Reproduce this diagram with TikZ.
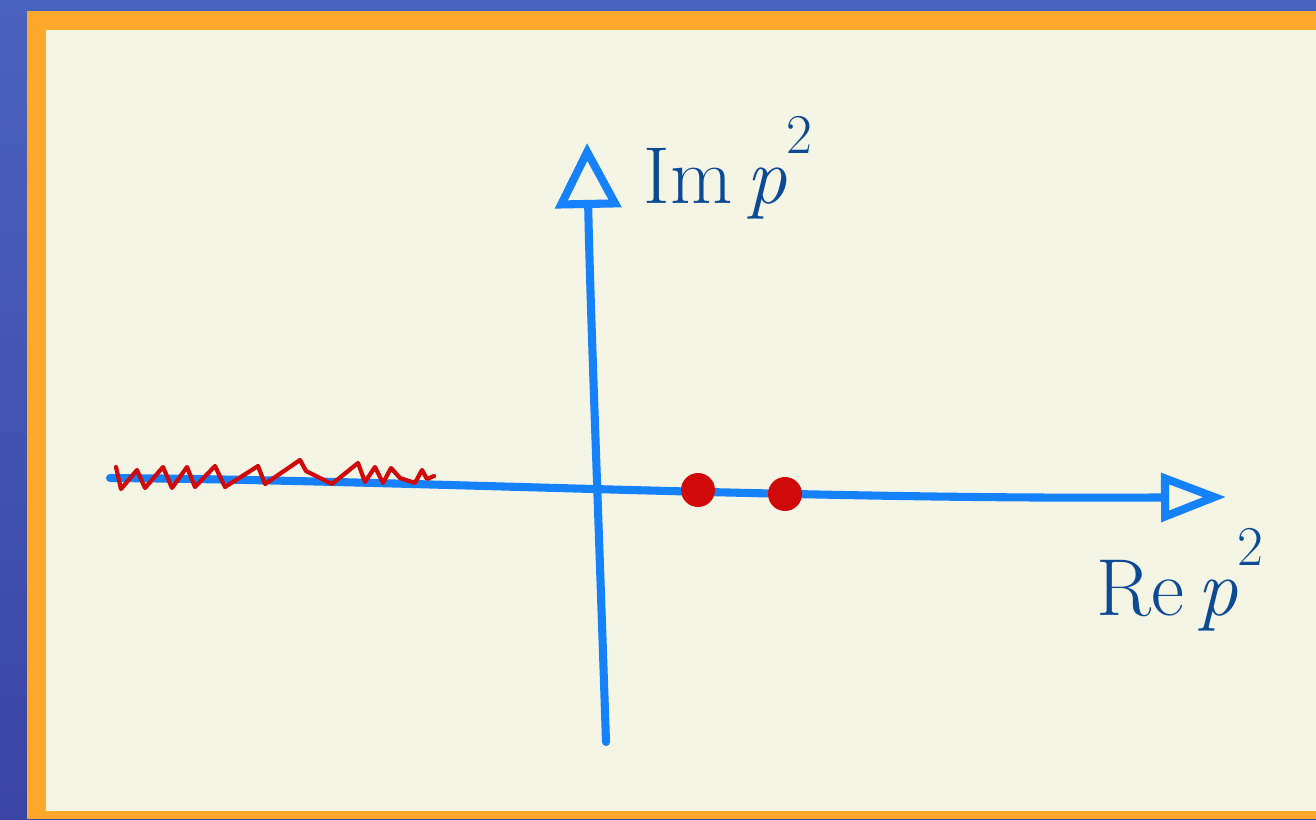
\documentclass[tikz,border=0pt]{standalone}
\usetikzlibrary{arrows.meta}
\definecolor{slideblue}{HTML}{4A63BE}
\definecolor{slidebluedark}{HTML}{3A45A4}
\definecolor{frameorange}{HTML}{FFA82B}
\definecolor{paper}{HTML}{F4F5E4}
\definecolor{axisblue}{HTML}{1581FB}
\definecolor{inkblue}{HTML}{0C4A95}
\definecolor{polered}{HTML}{D00A0A}
\newcommand{\sqlabel}[1]{#1\,\textit{p}\raisebox{0.62em}{\fontsize{32}{32}\selectfont 2}}
\tikzset{
  axis/.style={draw=axisblue, line width=4.6pt, line cap=round, line join=round},
  cut/.style={draw=polered, line width=2.4pt, line cap=round, line join=round},
  pole/.style={circle, fill=polered, inner sep=0pt, minimum size=0.68cm},
  axislabel/.style={text=inkblue, font=\fontsize{46}{50}\selectfont}
}
\begin{document}
\begin{tikzpicture}[x=0.02cm, y=-0.02cm]
  % Slide background and frame
  \useasboundingbox (0,0) rectangle (1316,819);
  \shade[top color=slideblue, bottom color=slidebluedark] (0,0) rectangle (1316,819);
  \fill[frameorange] (27,11) rectangle (1316,819);
  \fill[paper] (46,30) rectangle (1316,811);
  % Axis end points
  \coordinate (ybot) at (606,742);
  \coordinate (ytop) at (587,143);
  \coordinate (xleft) at (110,478);
  \coordinate (xright) at (1226,497);
  % Axes
  \draw[axis, -{Triangle[open, length=1.3cm, width=1.3cm, line width=4.6pt]}]
    (ybot) .. controls (598,500) and (590,300) .. (ytop);
  \draw[axis, -{Triangle[open, length=1.3cm, width=0.95cm, line width=4.6pt]}]
    (xleft) .. controls (400,480) and (800,500) .. (xright);
  % Branch cut
  \draw[cut] (116,467) -- (121,489) -- (137,470) -- (145,488) -- (163,467)
    -- (172,488) -- (187,467) -- (195,487) -- (215,466) -- (225,487)
    -- (258,466) -- (265,484) -- (300,460) -- (306,471) -- (332,484)
    -- (358,463) -- (365,482) -- (375,467) -- (383,483) -- (391,468)
    -- (400,478) -- (415,483) -- (422,470) -- (427,479) -- (434,476);
  % Poles
  \node[pole] (pole1) at (698,490) {};
  \node[pole] (pole2) at (785,494) {};
  % Labels
  \node[axislabel] (imlabel) at (728,168) {\sqlabel{Im}};
  \node[axislabel] (relabel) at (1180,580) {\sqlabel{Re}};
\end{tikzpicture}
\end{document}
